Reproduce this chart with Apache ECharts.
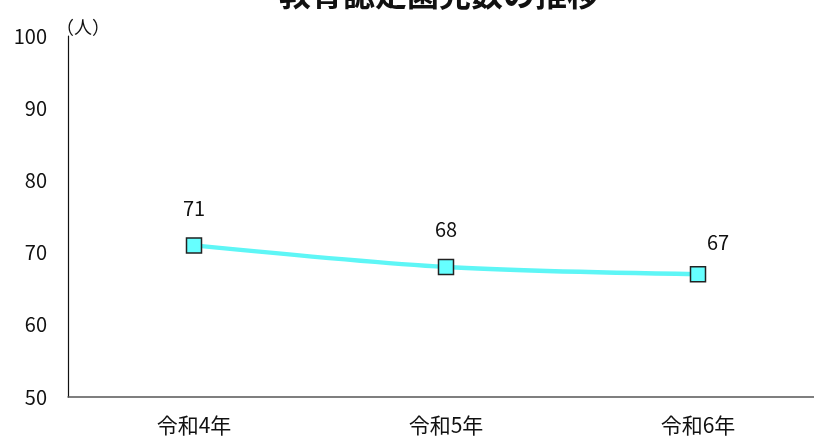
<!DOCTYPE html>
<html>
<head>
<meta charset="utf-8">
<script src="https://cdn.jsdelivr.net/npm/echarts@6/dist/echarts.min.js"></script>
<style>html,body{margin:0;padding:0;background:#fff;}#c{width:814px;height:439px;}</style>
</head>
<body>
<div id="c"></div>
<script>
var titleText = '教育認定園児数の推移';
var categories = ['令和4年', '令和5年', '令和6年'];
var values = [71, 68, 67];
var unitLabel = '（人）';

var font = '"Noto Sans CJK JP", "Noto Sans", sans-serif';
var chart = echarts.init(document.getElementById('c'));
chart.setOption({
  animation: false,
  title: {
    text: titleText, left: 434, top: -27, textAlign: 'center',
    textStyle: { fontSize: 32, fontWeight: 'bold', color: '#111', fontFamily: font }
  },
  graphic: [{
    type: 'text', left: 56, top: 18,
    style: { text: unitLabel, fontSize: 18, fill: '#111', fontFamily: font }
  }],
  grid: { left: 68, right: -10, top: 36, bottom: 42, outerBoundsMode: 'none', containLabel: false },
  xAxis: {
    type: 'category', data: categories, boundaryGap: true,
    axisLine: { lineStyle: { color: '#555', width: 1.5 } },
    axisTick: { show: false },
    axisLabel: { fontSize: 21, color: '#111', margin: 18, fontFamily: font }
  },
  yAxis: {
    type: 'value', min: 50, max: 100, interval: 10,
    axisLine: { show: true, lineStyle: { color: '#111', width: 1.2 } },
    axisTick: { show: false },
    splitLine: { show: false },
    axisLabel: { fontSize: 20, color: '#111', margin: 21, fontFamily: font }
  },
  series: [{
    type: 'line', smooth: 0.3,
    data: values.map(function (v, i) {
      var d = { value: v };
      if (i === 2) d.label = { offset: [20, 5] };
      return d;
    }),
    symbol: 'rect', symbolSize: 15,
    lineStyle: { color: '#5EF6F6', width: 4.5 },
    itemStyle: { color: '#66FFFF', borderColor: '#222', borderWidth: 1.5 },
    label: { show: true, position: 'top', distance: 19, fontSize: 20, color: '#111', fontFamily: font }
  }]
});
</script>
</body>
</html>
